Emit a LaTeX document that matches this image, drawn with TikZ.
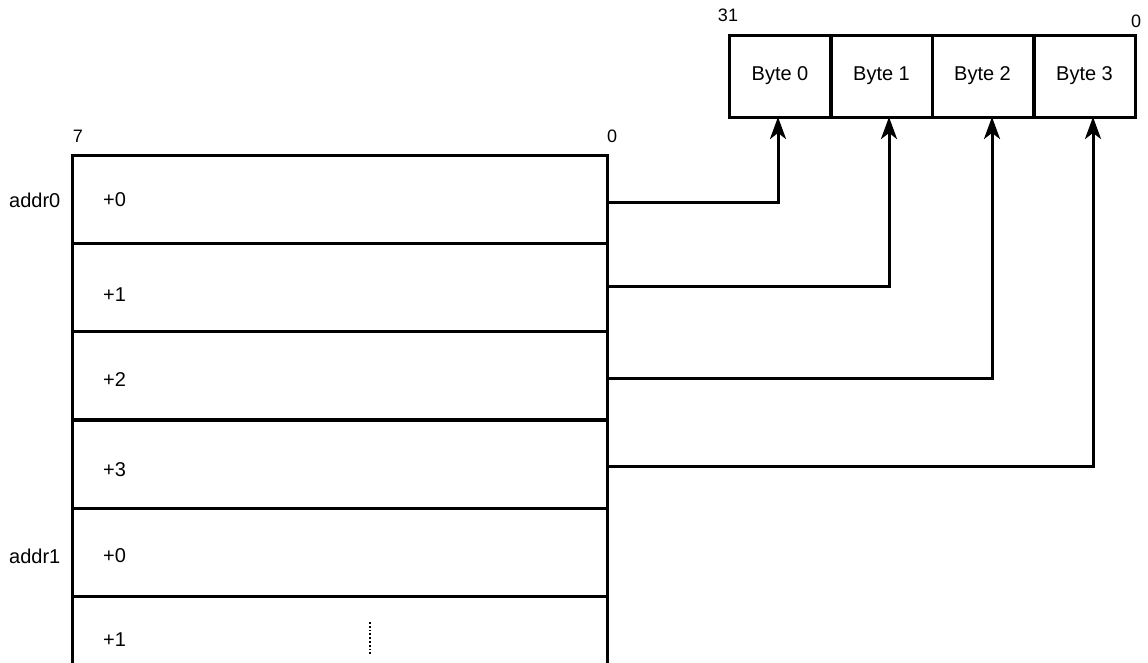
\documentclass[tikz,border=0pt]{standalone}
\usepackage{fontspec}
\setmainfont{Liberation Sans}
\usetikzlibrary{arrows.meta,positioning,calc}
\tikzset{
  memrow/.style={draw, line width=3pt, minimum width=535pt, minimum height=88pt,
                 inner sep=0pt, outer sep=0pt},
  bytebox/.style={draw, line width=3pt, minimum width=101pt, minimum height=82pt,
                  inner sep=0pt, outer sep=0pt, font=\fontsize{20}{22}\selectfont},
  lbl/.style={inner sep=0pt, anchor=west, font=\fontsize{20}{22}\selectfont},
  bitno/.style={inner sep=0pt, font=\fontsize{18}{20}\selectfont},
  link/.style={line width=3pt, -{Stealth[length=22pt, width=16pt, inset=6pt]}},
}

\begin{document}
\begin{tikzpicture}[x=1pt, y=-1pt]
    \useasboundingbox (0,0) rectangle (1148,662);
    % memory rows
    \node[memrow] (r0) at (339.5,199)   {};
    \node[memrow] (r1) at (339.5,287)   {};
    \node[memrow] (r2) at (339.5,375.5) {};
    \node[memrow] (r3) at (339.5,464)   {};
    \node[memrow] (r4) at (339.5,552)   {};
    \draw[line width=3pt] (r4.south west) -- ++(0,68);
    \draw[line width=3pt] (r4.south east) -- ++(0,68);
    \draw[line width=1.8pt, dotted] (370,622) -- (370,656);
    \node[lbl] (o0) at (103,200) {+0};
    \node[lbl] (o1) at (103,295) {+1};
    \node[lbl] (o2) at (103,380) {+2};
    \node[lbl] (o3) at (103,470) {+3};
    \node[lbl] (o4) at (103,556) {+0};
    \node[lbl] (o5) at (103,640) {+1};
    \node[lbl] (a0) at (9,200) {addr0};
    \node[lbl] (a1) at (9,556) {addr1};
    \node[bitno] (hi7) at (78,136)  {7};
    \node[bitno] (lo0) at (612,136) {0};
    % word
    \node[bytebox] (b0) at (780,76)    {Byte 0};
    \node[bytebox] (b1) at (881.5,76)  {Byte 1};
    \node[bytebox] (b2) at (982.5,76)  {Byte 2};
    \node[bytebox] (b3) at (1084.5,76) {Byte 3};
    \node[bitno] (hi31) at (728,15)   {31};
    \node[bitno] (lo00) at (1136,21)  {0};
    \coordinate (t0) at (778,117);
    \coordinate (t1) at (889,117);
    \coordinate (t2) at (992,117);
    \coordinate (t3) at (1093,117);
    \foreach \i/\dy in {0/-3,1/1,2/-2.5,3/-2} { \draw[link] ([yshift=\dy]r\i.east) -| (t\i); }
  \end{tikzpicture}
\end{document}
